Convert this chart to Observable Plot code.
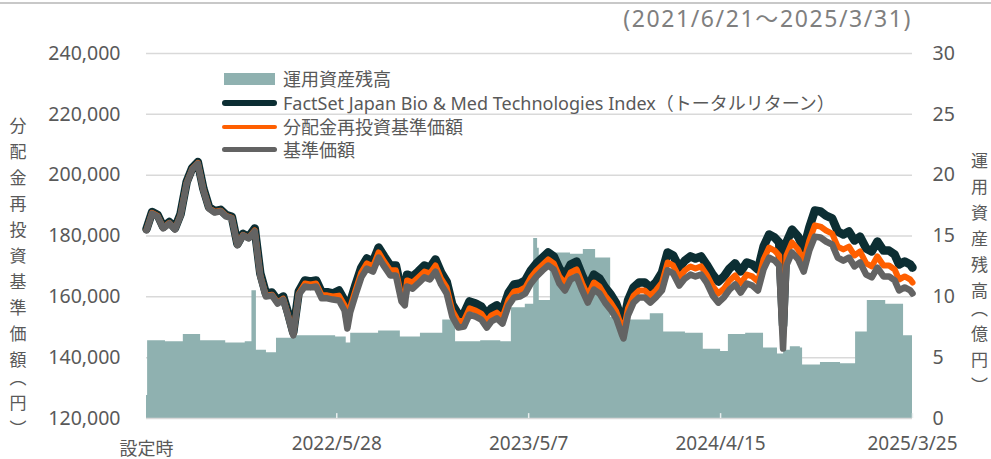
<!DOCTYPE html>
<html><head><meta charset="utf-8">
<script src="https://cdn.jsdelivr.net/npm/d3@7"></script>
<script src="https://cdn.jsdelivr.net/npm/@observablehq/plot@0.6"></script>
<style>
body{margin:0;background:#fff;}
#wrap{position:relative;width:991px;height:459px;overflow:hidden;font-family:"Noto Sans","Noto Sans CJK JP",sans-serif;color:#595959;}
#wrap svg{position:absolute;left:0;top:0;}
.abs{position:absolute;white-space:nowrap;}
.vlabel{position:absolute;writing-mode:vertical-rl;font-family:"Noto Sans CJK JP",sans-serif;font-size:17px;letter-spacing:9px;font-feature-settings:"vpal";line-height:17px;width:17px;color:#595959;}
.leg{position:absolute;font-size:18px;line-height:18px;white-space:nowrap;color:#595959;}
</style></head><body><div id="wrap"></div>
<script>
const lineDates = ["2021-06-21","2021-07-01","2021-07-11","2021-07-21","2021-08-01","2021-08-11","2021-08-21","2021-09-01","2021-09-11","2021-09-21","2021-10-01","2021-10-11","2021-10-21","2021-11-01","2021-11-11","2021-11-21","2021-12-01","2021-12-11","2021-12-21",
"2022-01-01","2022-01-11","2022-01-21","2022-02-01","2022-02-11","2022-02-21","2022-03-01","2022-03-11","2022-03-21","2022-04-01","2022-04-11","2022-04-21","2022-05-01","2022-05-11","2022-05-21","2022-06-01","2022-06-11","2022-06-16","2022-06-21","2022-07-01","2022-07-11","2022-07-21","2022-08-01","2022-08-11","2022-08-21","2022-09-01","2022-09-11","2022-09-21","2022-09-27","2022-10-01","2022-10-11","2022-10-21","2022-11-01","2022-11-11","2022-11-21","2022-12-01","2022-12-11","2022-12-21",
"2023-01-01","2023-01-11","2023-01-21","2023-02-01","2023-02-11","2023-02-21","2023-03-01","2023-03-11","2023-03-21","2023-04-01","2023-04-11","2023-04-21","2023-05-01","2023-05-11","2023-05-21","2023-06-01","2023-06-11","2023-06-21","2023-07-01","2023-07-11","2023-07-21","2023-08-01","2023-08-11","2023-08-21","2023-09-01","2023-09-11","2023-09-21","2023-10-01","2023-10-11","2023-10-21","2023-10-24","2023-11-01","2023-11-11","2023-11-21","2023-12-01","2023-12-11","2023-12-21",
"2024-01-01","2024-01-11","2024-01-21","2024-02-01","2024-02-11","2024-02-21","2024-03-01","2024-03-11","2024-03-21","2024-04-01","2024-04-11","2024-04-21","2024-05-01","2024-05-11","2024-05-21","2024-06-01","2024-06-11","2024-06-21","2024-07-01","2024-07-11","2024-07-21","2024-07-29","2024-08-05","2024-08-11","2024-08-21","2024-09-01","2024-09-11","2024-09-21","2024-10-01","2024-10-11","2024-10-21","2024-11-01","2024-11-11","2024-11-21","2024-12-01","2024-12-11","2024-12-21",
"2025-01-01","2025-01-11","2025-01-21","2025-02-01","2025-02-11","2025-02-21","2025-03-01","2025-03-11","2025-03-21","2025-03-25"];

const indexValues = [182300,187900,186900,183000,184600,182600,187200,197800,202400,204300,195500,189500,188200,188600,186900,186300,177400,180700,179700,
182500,167700,161100,161400,158800,160100,155200,148300,161800,165400,165100,165400,161500,161500,161100,162100,158800,152900,158100,164100,169600,172600,171600,176200,173300,170300,170300,161800,160400,167300,166700,168300,170300,169600,172300,168000,165000,157500,
154200,154500,158500,157800,156800,154200,156200,157200,155500,161400,164100,164400,165400,168700,171000,172900,174600,173300,169300,167000,170600,171600,167000,163100,167300,166000,163100,160800,157800,152500,151200,158800,163100,164700,164700,163100,164700,
168000,174600,173600,169600,171900,173300,172600,173300,170600,167300,165000,166700,169300,171000,168300,171300,170600,169000,176500,180500,179500,177900,150600,177900,182100,179800,175900,182800,188400,188100,186700,185800,181500,180500,181500,178500,179800,
175900,174900,178200,175200,175200,173900,170600,171600,170600,169600];

const reinvestValues = [182000,187600,186600,182700,184300,182300,186900,197500,202100,204000,195200,189200,187900,188300,186600,186000,177100,180400,179400,
181800,167000,160400,160700,158100,159400,154500,147600,161100,164400,164100,164400,160500,160500,160100,160400,157200,151200,156500,162400,168000,171000,170000,174600,171600,168700,168700,160100,158800,165400,164700,166400,168300,167700,170300,166000,163100,155500,
151900,152200,156200,155500,154500,151900,153900,154800,153200,159100,161800,162100,163100,166400,168700,170600,172300,171000,166700,164400,168000,169000,164400,160400,164700,163400,160400,158100,155200,149900,148600,156200,160400,162100,162100,160400,162100,
164700,171300,170300,166400,168700,170000,169300,170000,167300,163400,161100,162700,165400,167000,164400,167300,166700,165000,172300,176200,175200,173600,146300,173600,177900,175600,171600,178500,183500,183100,181800,180800,176500,175600,176500,173600,174900,
171000,170000,173300,170300,170300,169000,165700,166700,165700,164700];

const navValues = [181800,187400,186400,182500,184100,182100,186700,197300,201900,203800,195000,189000,187700,188100,186400,185800,176900,180200,179200,
181500,166700,160100,160400,157800,159100,154200,147300,160800,163400,163100,163400,159500,159500,159100,158800,155500,149600,154800,160800,166400,169300,168300,172900,170000,167000,167000,158500,157200,163400,162700,164400,166400,165700,168300,164100,161100,153500,
149900,150200,154200,153500,152500,149900,151900,152900,151200,157200,159800,160100,161100,164400,166700,168700,170300,169000,164400,162100,165700,166700,162100,158100,162400,161100,158100,155800,152900,147600,146300,153900,158100,159800,159800,158100,159800,
162100,168700,167700,163700,166000,167300,166700,167300,164700,160400,158100,159800,162400,164100,161400,164400,163700,162100,169000,172900,171900,170300,143000,170300,174600,172300,168300,175200,179800,179500,178200,177200,172900,171900,172900,170000,171300,
167300,166400,169600,166700,166700,165400,162100,163100,162100,161100];

const assetDates = ["2021-06-21","2021-06-23","2021-07-25","2021-08-26","2021-09-26","2021-11-10","2021-12-15","2021-12-27","2022-01-04","2022-01-22","2022-02-09","2022-03-15","2022-05-26","2022-06-14","2022-06-22","2022-08-11","2022-09-19","2022-10-25","2022-12-04","2022-12-27","2023-02-10","2023-03-18","2023-04-06","2023-05-01","2023-05-16","2023-05-23","2023-05-26","2023-06-15","2023-07-21","2023-08-13","2023-09-04","2023-10-01","2023-10-19","2023-12-11","2024-01-04","2024-02-12","2024-03-15","2024-04-15","2024-04-29","2024-05-30","2024-07-01","2024-07-26","2024-08-06","2024-08-18","2024-09-05","2024-09-09","2024-10-11","2024-11-16","2024-12-13","2025-01-03","2025-02-05","2025-03-09","2025-03-25"];
const assetValues = [1.9,6.4,6.3,6.9,6.4,6.2,6.3,10.5,5.6,5.4,6.6,6.8,6.7,6.2,7.0,7.2,6.7,7.0,8.1,6.3,6.4,6.3,9.1,9.4,14.8,14.0,9.7,13.6,13.5,13.9,13.2,8.3,8.1,8.6,7.1,7.0,5.7,5.5,6.9,7.0,5.8,5.3,5.6,5.9,5.8,4.4,4.6,4.5,7.1,9.7,9.4,6.8,6.8];

const leftTicks = [120000,140000,160000,180000,200000,220000,240000];
const rightTicks = [0,5,10,15,20,25,30];
const xTickDates = ["2021-06-21","2022-05-28","2023-05-07","2024-04-15","2025-03-25"];
const xTickLabels = ["設定時","2022/5/28","2023/5/7","2024/4/15","2025/3/25"];
const legendLabels = ["運用資産残高","FactSet Japan Bio & Med Technologies Index（トータルリターン）","分配金再投資基準価額","基準価額"];
const periodText = "(2021/6/21～2025/3/31)";
const leftTitle = "分配金再投資基準価額（円）";
const rightTitle = "運用資産残高（億円）";

const colors = {asset:"#8fb1b0", index:"#0c2e33", reinvest:"#ff5f00", nav:"#636363", grid:"#d9d9d9"};

const Y0 = leftTicks[0], Y1 = leftTicks[leftTicks.length-1], R1 = rightTicks[rightTicks.length-1];
const toLeft = v => Y0 + v * (Y1 - Y0) / R1;

const lines = lineDates.map((d,i)=>({date:new Date(d), index:indexValues[i], reinvest:reinvestValues[i], nav:navValues[i]}));
const assets = assetDates.map((d,i)=>({date:new Date(d), v:assetValues[i]}));
const xt = xTickDates.map((d,i)=>({date:new Date(d), label:xTickLabels[i]}));

const chart = Plot.plot({
  width:991, height:459, marginTop:53, marginBottom:41, marginLeft:146, marginRight:79,
  x:{type:"utc", domain:[new Date(xTickDates[0]), new Date(xTickDates[xTickDates.length-1])], axis:null},
  y:{domain:[Y0,Y1], axis:null},
  style:{fontFamily:'"Noto Sans","Noto Sans CJK JP",sans-serif', fontSize:"19.5px", color:"#595959", background:"transparent", overflow:"visible"},
  marks:[
    Plot.ruleY(leftTicks.slice(1), {stroke:colors.grid, strokeWidth:1.5}),
    Plot.areaY(assets, {x:"date", y1:Y0, y2:d=>toLeft(d.v), curve:"step-after", fill:colors.asset}),
    Plot.ruleY([Y0], {stroke:colors.grid, strokeWidth:1.5}),
    Plot.ruleX(xt.slice(1), {x:"date", y1:Y0, y2:Y0+1600, stroke:"#e8eeee", strokeWidth:1.5}),
    Plot.line(lines, {x:"date", y:"index", stroke:colors.index, strokeWidth:8.5, strokeLinejoin:"round", strokeLinecap:"round"}),
    Plot.line(lines, {x:"date", y:"reinvest", stroke:colors.reinvest, strokeWidth:6, strokeLinejoin:"round"}),
    Plot.line(lines, {x:"date", y:"nav", stroke:colors.nav, strokeWidth:6.5, strokeLinejoin:"round"}),
    Plot.axisY(leftTicks, {anchor:"left", tickSize:0, tickPadding:26, tickFormat:d3.format(","), label:null, fill:"#595959"}),
    Plot.axisY(rightTicks.map(toLeft), {anchor:"right", tickSize:0, tickPadding:20, tickFormat:d=>String(Math.round((d-Y0)*R1/(Y1-Y0))), label:null, fill:"#595959"}),
    Plot.text(xt.slice(1), {x:"date", y:Y0, text:"label", dy:25, fontSize:19, fill:"#595959"}),
    Plot.text(xt.slice(0,1), {x:"date", y:Y0, text:"label", dy:31, fill:"#595959", fontFamily:'"Noto Sans CJK JP",sans-serif', fontSize:18})
  ]
});

const wrap = document.getElementById("wrap");
wrap.appendChild(chart);

function addDiv(cls, css, text){
  const d = document.createElement("div");
  d.className = cls; d.style.cssText = css; if (text!=null) d.textContent = text;
  wrap.appendChild(d); return d;
}
// top rule and period text
addDiv("abs","left:0;top:2px;width:991px;height:2px;background:#c8c8c8;");
addDiv("abs",`right:79px;top:4px;font-size:23px;line-height:28px;color:#7f7f7f;letter-spacing:1.6px;`, periodText);
// vertical axis titles
addDiv("vlabel","left:9.5px;top:116.5px;", leftTitle);
addDiv("vlabel","left:971px;top:151.5px;", rightTitle);
// legend
addDiv("abs",`left:224px;top:73px;width:51px;height:12px;background:${colors.asset};`);
addDiv("abs",`left:222px;top:99.5px;width:55px;height:6px;border-radius:3px;background:${colors.index};`);
addDiv("abs",`left:222px;top:125px;width:55px;height:4px;border-radius:2px;background:${colors.reinvest};`);
addDiv("abs",`left:222px;top:147px;width:55px;height:5px;border-radius:2.5px;background:${colors.nav};`);
const legY = [79, 102.5, 127, 149.5];
legendLabels.forEach((t,i)=>addDiv("leg",`left:283px;top:${legY[i]-9}px;`, t));
</script></body></html>
